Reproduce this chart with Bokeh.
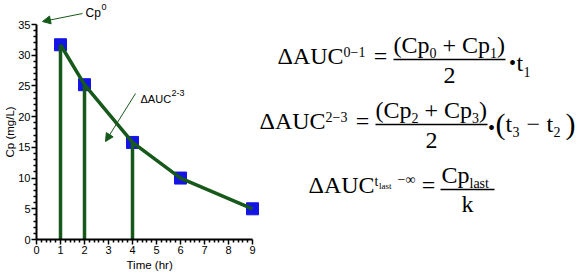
from bokeh.plotting import figure
from bokeh.models import Range1d, FixedTicker, Label, Arrow, NormalHead, Title
from bokeh.embed import file_html
from bokeh.resources import INLINE

# ---- data ----
time_hr = [1, 2, 4, 6, 9]
cp_mgl = [31.7, 25.2, 15.8, 10.0, 5.0]
n_auc = 3  # vertical trapezoid edges at the first three samples
x_ticks = list(range(0, 10))
x_minor = [i / 5 for i in range(0, 46) if i % 5]
y_ticks = list(range(0, 36, 5))
y_minor = [i for i in range(0, 36) if i % 5]
x_label = "Time (hr)"
y_label = "Cp (mg/L)"

GREEN = "#17591b"
BLUE = "#1414e6"

FL, FB = 36, 239          # frame left / bottom (canvas px)
XS = 24.0                 # px per hour
YS = 215.0 / 35.0         # px per mg/L
BASE_FIX = 0.38           # label baseline correction (em)

p = figure(width=582, height=277, title=None,
           x_range=Range1d(0, 546 / XS), y_range=Range1d(0, 239 / YS),
           output_backend="svg", toolbar_location=None,
           min_border_left=FL, min_border_right=0, min_border_top=0,
           min_border_bottom=277 - FB)
p.outline_line_color = None
p.xgrid.visible = False
p.ygrid.visible = False
p.background_fill_color = "white"
p.border_fill_color = "white"

for ax, ticks, minor, bnd in ((p.xaxis[0], x_ticks, x_minor, (0, 9)),
                              (p.yaxis[0], y_ticks, y_minor, (0, 35))):
    ax.ticker = FixedTicker(ticks=ticks, minor_ticks=minor)
    ax.bounds = bnd
    ax.major_label_text_font = "Liberation Sans"
    ax.major_label_text_font_size = "11px"
    ax.major_label_text_color = "black"
    ax.axis_line_color = "black"
    ax.axis_line_width = 2
    ax.major_tick_line_color = "black"
    ax.major_tick_line_width = 1.5
    ax.minor_tick_line_color = "black"
    ax.minor_tick_line_width = 1.5
    ax.major_tick_in = 0
    ax.major_tick_out = 5
    ax.minor_tick_in = 0
    ax.minor_tick_out = 3
    ax.major_label_standoff = 1

# axis titles placed as side titles so they can sit under / beside the 0-9 / 0-35 span
p.add_layout(Title(text=x_label, align="left", offset=126 - FL, standoff=0,
                   text_font="Liberation Sans", text_font_size="11.5px",
                   text_font_style="normal", text_color="black"), "below")
p.add_layout(Title(text=y_label, align="left", offset=FB - 157, standoff=0,
                   text_font="Liberation Sans", text_font_size="11.5px",
                   text_font_style="normal", text_color="black"), "left")

# ---- marks ----
p.scatter(time_hr, cp_mgl, marker="square", size=12, fill_color=BLUE, line_color=BLUE)
p.segment(x0=time_hr[:n_auc], y0=[0] * n_auc, x1=time_hr[:n_auc], y1=cp_mgl[:n_auc],
          line_color=GREEN, line_width=3.5)
p.line(time_hr, cp_mgl, line_color=GREEN, line_width=3.5)

# ---- annotation arrows (canvas px -> data) ----
def dx(cx):
    return (cx - FL) / XS

def dy(cy):
    return (FB - cy) / YS

for (x0, y0, x1, y1) in ((82, 13, 42, 21), (135, 93, 105, 141)):
    p.add_layout(Arrow(x_start=dx(x0), y_start=dy(y0), x_end=dx(x1), y_end=dy(y1),
                       line_color=GREEN, line_width=1,
                       end=NormalHead(size=8, fill_color=GREEN, line_color=GREEN)))

def put(text, cx, cy, size, font="Liberation Serif", align="left"):
    cy = cy - BASE_FIX * size
    p.add_layout(Label(x=cx - FL, y=FB - cy, x_units="screen", y_units="screen",
                       text=text, text_font=font, text_font_size=f"{size}px",
                       text_align=align, text_baseline="alphabetic", text_color="black"))

def bar(x0, x1, cy):
    p.add_layout(Arrow(x_start=x0 - FL, y_start=FB - cy, x_end=x1 - FL, y_end=FB - cy,
                       start_units="screen", end_units="screen", start=None, end=None,
                       line_color="black", line_width=1.5))

SANS = "Liberation Sans"
put("Cp", 85, 17, 12, SANS)
put("0", 101, 10, 9, SANS)
put("ΔAUC", 140, 103, 11, SANS)
put("2-3", 171, 96, 9, SANS)

# equation 1
put("ΔAUC", 277, 65, 24)
put("0−1", 343, 57, 14)
put("=", 380, 65, 24, align="center")
put("(Cp", 393, 54, 24)
put("0", 429, 58, 14)
put("+", 442, 54, 24)
put("Cp", 461.5, 54, 24)
put("1", 489.5, 58, 14)
put(")", 496.5, 54, 24)
bar(393, 505, 59)
put("2", 449, 84, 24, align="center")
put("•", 512, 70, 20, align="center")
put("t", 516, 72, 24)
put("1", 523, 77, 14)

# equation 2
put("ΔAUC", 259, 130, 24)
put("2−3", 325, 122, 14)
put("=", 362, 130, 24, align="center")
put("(Cp", 375, 119, 24)
put("2", 411, 123, 14)
put("+", 424, 119, 24)
put("Cp", 443.5, 119, 24)
put("3", 471.5, 123, 14)
put(")", 478.5, 119, 24)
bar(375, 487, 124)
put("2", 431, 149, 24, align="center")
put("•", 491, 135, 20, align="center")
put("(", 495, 134, 30)
put("t", 505, 133, 24)
put("3", 512, 137, 14)
put("−", 526, 133, 24)
put("t", 546, 133, 24)
put("2", 553, 137, 14)
put(")", 565, 134, 30)

# equation 3
put("ΔAUC", 308, 194, 24)
put("t", 374, 186, 14)
put("last", 378.5, 189, 9)
put("−∞", 397, 184, 14)
put("=", 428, 194, 24, align="center")
put("Cp", 441, 184, 24)
put("last", 469, 188, 14)
bar(440, 494, 189)
put("k", 467, 213, 24, align="center")

open("out.html", "w").write(file_html(p, INLINE))
